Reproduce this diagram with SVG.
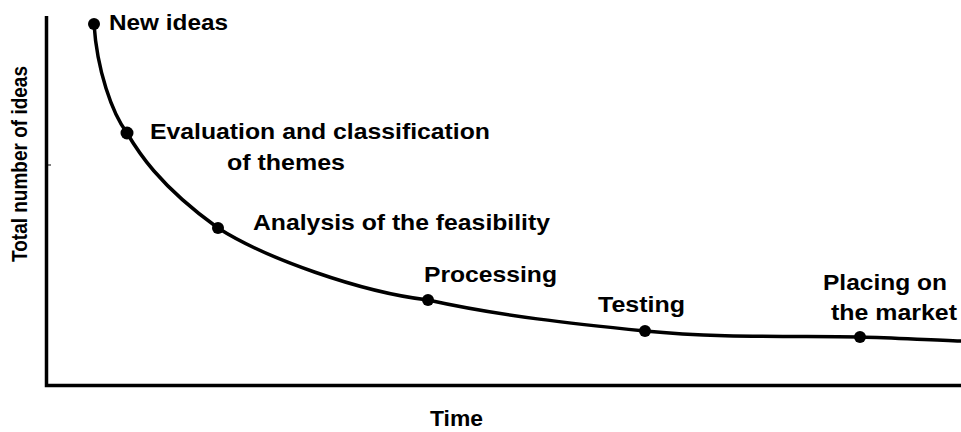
<svg xmlns="http://www.w3.org/2000/svg" width="961" height="432" viewBox="0 0 961 432">
  <style>
    .lbl { font-family: "Liberation Sans", Arial, sans-serif; font-weight: bold; font-size: 22px; fill: #000; }
    .ax { stroke: #000; stroke-width: 3.5; fill: none; }
    .curve { stroke: #000; stroke-width: 3.5; fill: none; stroke-linecap: round; }
    .dot { fill: #000; }
  </style>

  <!-- axes -->
  <g id="axes">
    <path class="ax" d="M46.5,16 V385.5 H961"/>
    <line x1="48" y1="165" x2="51" y2="165" stroke="#000" stroke-width="1"/>
    <text class="lbl" transform="translate(27,262) rotate(-90)" font-size="17" textLength="196" lengthAdjust="spacingAndGlyphs">Total number of ideas</text>
    <text class="lbl" x="430" y="426" font-size="21" textLength="53" lengthAdjust="spacingAndGlyphs">Time</text>
  </g>

  <!-- the decay curve through the stages -->
  <g id="connectors">
    <path class="curve" d="M94,24 C97,70 112,113 127,133 C137,150 158,185 218,228 C265,258 360,292 428,300 C500,316 575,324 645,331 C715,338 790,336 860,337 C895,338 930,340 961,341"/>
  </g>

  <g id="new-ideas">
    <circle class="dot" cx="94" cy="24" r="6"/>
    <text class="lbl" x="109" y="30" textLength="119" lengthAdjust="spacingAndGlyphs">New ideas</text>
  </g>

  <g id="evaluation">
    <circle class="dot" cx="127" cy="133" r="6.5"/>
    <text class="lbl" x="150" y="139" textLength="340" lengthAdjust="spacingAndGlyphs">Evaluation and classification</text>
    <text class="lbl" x="227" y="170" textLength="118" lengthAdjust="spacingAndGlyphs">of themes</text>
  </g>

  <g id="analysis">
    <circle class="dot" cx="218" cy="228" r="6"/>
    <text class="lbl" x="253" y="230" textLength="297" lengthAdjust="spacingAndGlyphs">Analysis of the feasibility</text>
  </g>

  <g id="processing">
    <circle class="dot" cx="428" cy="300" r="6"/>
    <text class="lbl" x="424" y="282" textLength="133" lengthAdjust="spacingAndGlyphs">Processing</text>
  </g>

  <g id="testing">
    <circle class="dot" cx="645" cy="331" r="6"/>
    <text class="lbl" x="598" y="312" textLength="87" lengthAdjust="spacingAndGlyphs">Testing</text>
  </g>

  <g id="market">
    <circle class="dot" cx="860" cy="337" r="6"/>
    <text class="lbl" x="823" y="290" textLength="124" lengthAdjust="spacingAndGlyphs">Placing on</text>
    <text class="lbl" x="831" y="320" textLength="126" lengthAdjust="spacingAndGlyphs">the market</text>
  </g>
</svg>
